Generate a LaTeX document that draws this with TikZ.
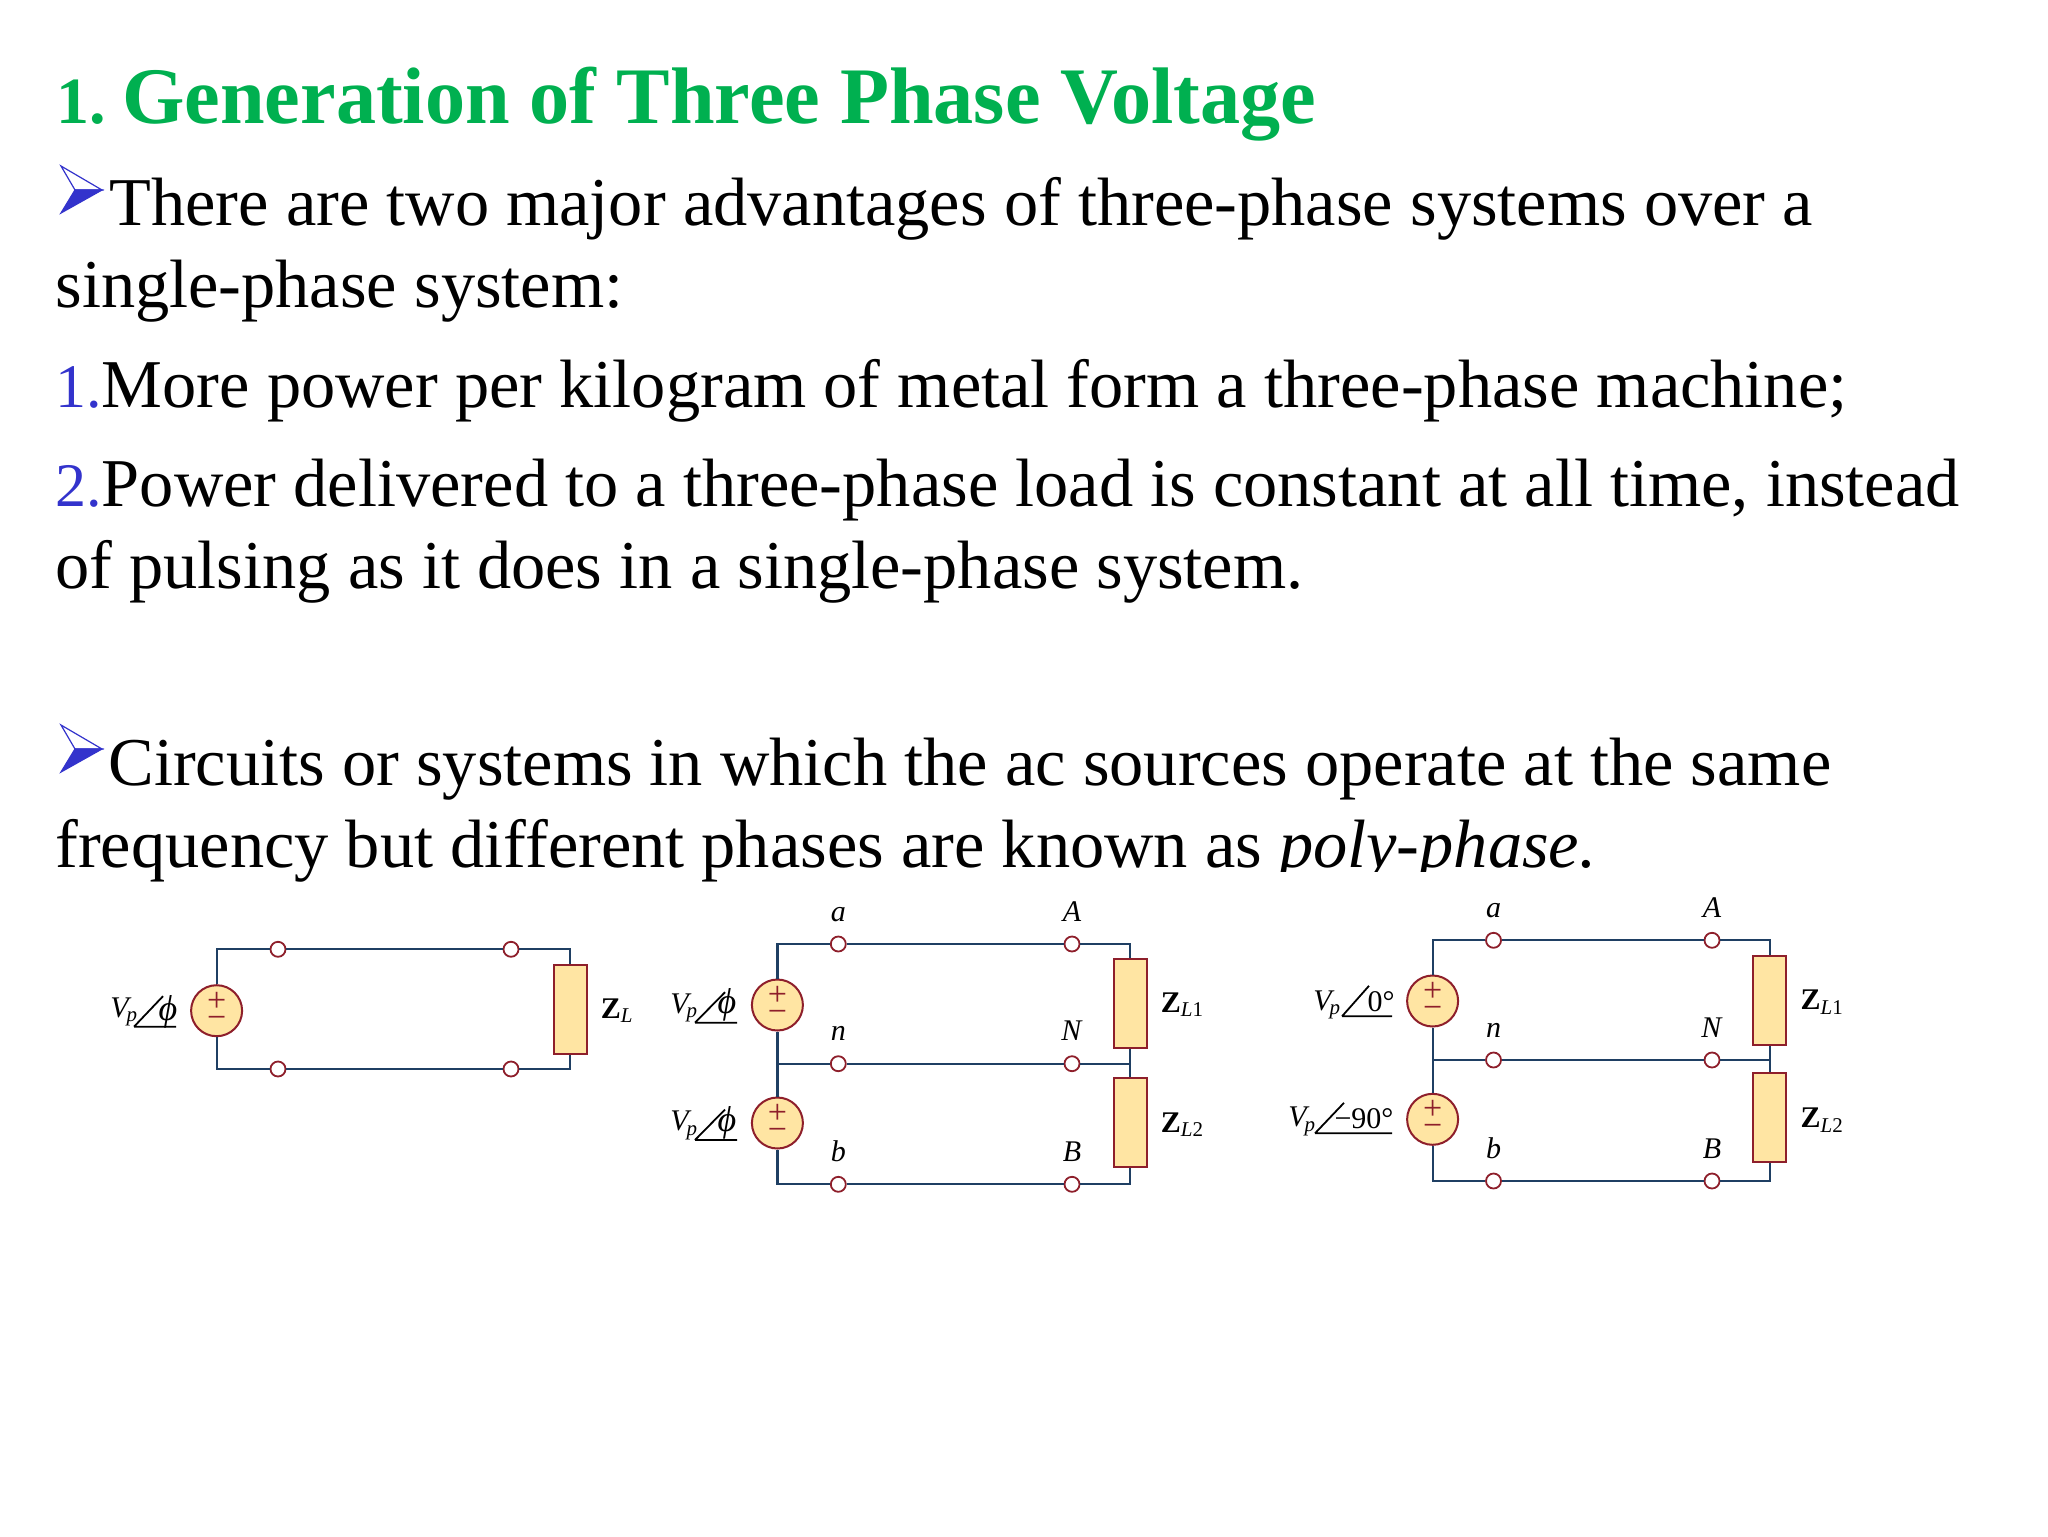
\documentclass[tikz,border=0pt]{standalone}
\usepackage{fontspec}
\setmainfont{Liberation Serif}
\usetikzlibrary{positioning}
\definecolor{wirecol}{HTML}{1F3F63}
\definecolor{partcol}{HTML}{8E1F2B}
\definecolor{partfill}{HTML}{FFE5A3}
\definecolor{titlecol}{HTML}{00B050}
\definecolor{markcol}{HTML}{3333CC}
\newcommand{\Vp}{\textit{V}\hspace{-2.5pt}\textsubscript{\textit{p}}}
\newcommand{\Zsub}[1]{\textbf{Z}\textsubscript{\textit{L}#1}}
\newcommand{\Num}[1]{\textcolor{markcol}{\fontsize{31}{31}\selectfont #1}}
\newcommand{\Ph}{{\fontsize{18}{18}\selectfont\textit{ϕ}}}
\tikzset{
  wire/.style={draw=wirecol, line width=1.1pt},
  srcnode/.style={circle, draw=partcol, fill=partfill, line width=1pt, minimum size=25.5pt, inner sep=0pt},
  signlab/.style={inner sep=0pt, text=partcol, font=\fontsize{17}{17}\selectfont},
  loadnode/.style={rectangle, draw=partcol, fill=partfill, line width=1pt, minimum width=16.5pt, minimum height=44.5pt, inner sep=0pt},
  termnode/.style={circle, draw=partcol, fill=white, line width=.9pt, minimum size=7.5pt, inner sep=0pt},
  lab/.style={inner sep=0pt, font=\fontsize{15}{15}\selectfont},
  toplab/.style={lab, text depth=0pt},
  bodyline/.style={anchor=base west, inner sep=0pt, font=\fontsize{34.2}{34.2}\selectfont},
  markfill/.style={fill=markcol, draw=markcol, line width=.6pt}
}
\newcommand{\Signs}[1]{
  \node[signlab] (#1p) at ([yshift=4.5pt]#1.center) {+};
  \node[signlab] (#1m) at ([yshift=-5.8pt]#1.center) {\textminus};
}
\newcommand{\Angle}[4]{\draw[line width=.9pt, black] (#1,#2) -- ++(#3,-30.5) (#1,#2) -- (#4,#2);}
\begin{document}
\begin{tikzpicture}[x=.5pt, y=-.5pt]
\useasboundingbox[fill=white] (0,0) rectangle (2048,1536);
% text of the slide
\node[bodyline, text=titlecol, font=\fontsize{40.1}{40}\selectfont\bfseries] (title) at (56,123) {{\fontsize{33}{33}\selectfont 1.}\hspace{8.2pt}Generation of Three Phase Voltage};
\node[bodyline] (l1) at (109,225) {There are two major advantages of three-phase systems over a};
\node[bodyline] (l2) at (55,307) {single-phase system:};
\node[bodyline] (l3) at (55,407.5) {\Num{1.}More power per kilogram of metal form a three-phase machine;};
\node[bodyline] (l4) at (55,506.5) {\Num{2.}Power delivered to a three-phase load is constant at all time, instead};
\node[bodyline] (l5) at (55,588) {of pulsing as it does in a single-phase system.};
\node[bodyline] (l6) at (108,785) {Circuits or systems in which the ac sources operate at the same};
\node[bodyline] (l7) at (55,867) {frequency but different phases are known as \textit{poly-phase.}};
% the picture below cuts the descenders
\fill[white] (1100,872) rectangle (1650,890);
% bullets
\foreach \y in {166,725}{
  \draw[draw=markcol, line width=.6pt] (61,\y) -- (102,\y+24) -- (75,\y+24) -- cycle;
  \draw[markfill] (61,\y+47) -- (102,\y+24) -- (75,\y+24) -- cycle;
}
% single-phase circuit
\node[srcnode] (s0) at (216.6,1010.7) {};
\Signs{s0}
\node[loadnode] (z0) at (570,1009) {};
\node[termnode] (a0) at (278,949.3) {};
\node[termnode] (A0) at (511,949.3) {};
\node[termnode] (b0) at (278,1069) {};
\node[termnode] (B0) at (511,1069) {};
\draw[wire] (s0) |- (a0) (a0) -- (A0) (A0) -| (z0);
\draw[wire] (s0) |- (b0) (b0) -- (B0) (B0) -| (z0);
\node[lab, right=6.5pt of z0, yshift=-1pt] (zl0) {\Zsub{}};
\node[lab, anchor=base west] (v0) at (110,1017) {\Vp};
\Angle{134}{1026.7}{29}{176}
\node[lab] (ph0) at (168,1011.7) {\Ph};
% two-phase circuits
\foreach \c/\xl/\xa/\xA/\xr/\ya/\yn/\yb/\ys/\yt/\yz/\yy in {1/777.4/838.3/1072/1130/944/1063.7/1184.3/1005/1123/1003/1122, 2/1432.6/1493.5/1712/1769.8/940.3/1060/1181/1001/1119.3/1000.3/1117.3}{
  \node[srcnode] (s\c a) at (\xl,\ys) {};
  \Signs{s\c a}
  \node[srcnode] (s\c b) at (\xl,\yt) {};
  \Signs{s\c b}
  \node[loadnode] (z\c a) at (\xr,\yz) {};
  \node[loadnode] (z\c b) at (\xr,\yy) {};
  \node[termnode] (a\c) at (\xa,\ya) {};
  \node[termnode] (A\c) at (\xA,\ya) {};
  \node[termnode] (n\c) at (\xa,\yn) {};
  \node[termnode] (N\c) at (\xA,\yn) {};
  \node[termnode] (b\c) at (\xa,\yb) {};
  \node[termnode] (B\c) at (\xA,\yb) {};
  \node[toplab, above=7pt of a\c] (la\c) {\textit{a}};
  \node[toplab, above=7pt of A\c] (lA\c) {\textit{A}};
  \node[toplab, above=7pt of n\c] (ln\c) {\textit{n}};
  \node[toplab, above=7pt of N\c] (lN\c) {\textit{N}};
  \node[toplab, above=7pt of b\c] (lb\c) {\textit{b}};
  \node[toplab, above=7pt of B\c] (lB\c) {\textit{B}};
  \coordinate (jl\c) at (\xl,\yn);
  \coordinate (jr\c) at (\xr,\yn);
  \draw[wire] (s\c a) |- (a\c) (a\c) -- (A\c) (A\c) -| (z\c a);
  \draw[wire] (s\c b) |- (b\c) (b\c) -- (B\c) (B\c) -| (z\c b);
  \draw[wire] (s\c a) -- (s\c b) (z\c a) -- (z\c b);
  \draw[wire] (jl\c) -- (n\c) (n\c) -- (N\c) (N\c) -- (jr\c);
  \node[lab, right=6.5pt of z\c a, yshift=-1pt] (zl\c a) {\Zsub{1}};
  \node[lab, right=6.5pt of z\c b, yshift=-1.5pt] (zl\c b) {\Zsub{2}};
}
% phasor labels, circuit 1
\node[lab, anchor=base west] (v1a) at (670,1013.3) {\Vp};
\Angle{695}{1022.7}{30}{737}
\node[lab] (ph1a) at (727,1005) {\Ph};
\node[lab, anchor=base west] (v1b) at (670,1130.7) {\Vp};
\Angle{695}{1140}{30}{737}
\node[lab] (ph1b) at (727,1123) {\Ph};
% phasor labels, circuit 2
\node[lab, anchor=base west] (v2a) at (1313,1010) {\Vp};
\Angle{1342}{1016.3}{27}{1392}
\node[lab] (ph2a) at (1381,1001.7) {0°};
\node[lab, anchor=base west] (v2b) at (1288,1126.7) {\Vp};
\Angle{1315}{1133.3}{29}{1392}
\node[lab] (ph2b) at (1364,1118.3) {\textminus90°};
\end{tikzpicture}
\end{document}
